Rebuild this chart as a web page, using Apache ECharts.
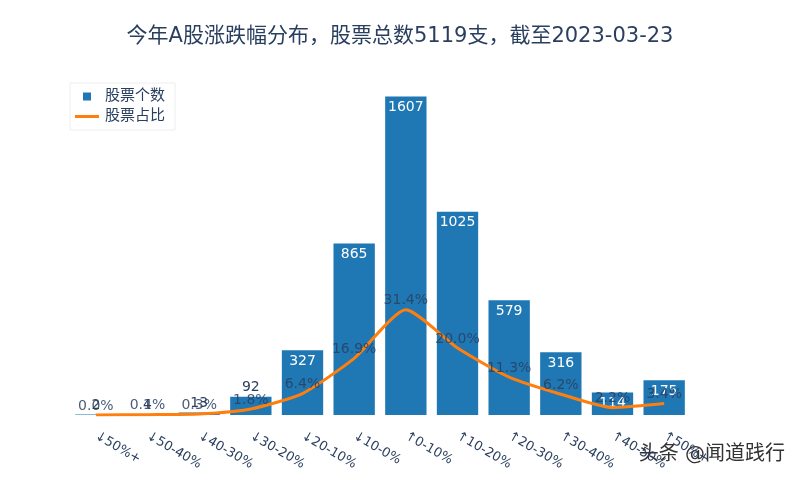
<!DOCTYPE html>
<html>
<head>
<meta charset="utf-8">
<script src="https://cdn.jsdelivr.net/npm/echarts@6/dist/echarts.min.js"></script>
<style>html,body{margin:0;padding:0;background:#fff}#c{width:800px;height:480px}</style>
</head>
<body>
<div id="c"></div>
<script>
var categories = ['↓50%+','↓50-40%','↓40-30%','↓30-20%','↓20-10%','↓10-0%','↑0-10%','↑10-20%','↑20-30%','↑30-40%','↑40-50%','↑50%+'];
var counts = [2, 4, 13, 92, 327, 865, 1607, 1025, 579, 316, 114, 175];
var percents = [0.0, 0.1, 0.3, 1.8, 6.4, 16.9, 31.4, 20.0, 11.3, 6.2, 2.2, 3.4];

var FONT = '"DejaVu Sans","Noto Sans CJK SC",sans-serif';
var TXT = '#2a3f5f';

var barData = counts.map(function (v) {
  var inside = v >= 100;
  return {
    value: v,
    label: inside ? { position: 'insideTop', color: '#fff', distance: 4 } : { position: 'top', color: TXT, distance: 2 }
  };
});

var chart = echarts.init(document.getElementById('c'), null, { renderer: 'canvas' });
chart.setOption({
  backgroundColor: '#fff',
  animation: false,
  textStyle: { fontFamily: FONT },
  title: {
    text: '今年A股涨跌幅分布，股票总数5119支，截至2023-03-23',
    left: 'center', top: 21,
    textStyle: { fontSize: 21, fontWeight: 'normal', color: TXT, fontFamily: FONT }
  },
  legend: {
    left: 70, top: 83, orient: 'vertical', itemGap: 5,
    padding: [6, 10, 6, 4],
    borderColor: '#eeeeee', borderWidth: 1,
    textStyle: { fontSize: 15, color: TXT, fontFamily: FONT },
    itemWidth: 26, itemHeight: 10,
    data: [
      { name: '股票个数', icon: 'path://M0,0L0,0M9,1L17,1L17,9L9,9ZM26,10L26,10', itemStyle: { color: '#1f77b4' } },
      { name: '股票占比', icon: 'path://M0,0L0,0M1,3.5L25,3.5L25,6.5L1,6.5ZM26,10L26,10', itemStyle: { color: '#ff7f0e' } }
    ]
  },
  grid: { left: 70, right: 110, top: 80, bottom: 65 },
  xAxis: {
    type: 'category', data: categories,
    axisLine: { show: false }, axisTick: { show: false },
    axisLabel: { rotate: -30, margin: 20, fontSize: 13, color: TXT, fontFamily: FONT, interval: 0 }
  },
  yAxis: [
    { type: 'value', min: 0, max: 1690, show: false, splitLine: { show: false } },
    { type: 'value', min: 0, max: 100, show: false, splitLine: { show: false } }
  ],
  series: [
    {
      name: '股票个数', type: 'bar', data: barData,
      barCategoryGap: '20%',
      itemStyle: { color: '#1f77b4' },
      label: { show: true, fontSize: 14, fontFamily: FONT }
    },
    {
      name: '股票占比', type: 'line', yAxisIndex: 1, data: percents,
      smooth: 0.2, symbol: 'circle', symbolSize: 0.1,
      lineStyle: { color: '#ff7f0e', width: 3 },
      itemStyle: { color: '#ff7f0e' },
      label: {
        show: true, position: 'top', distance: 2, fontSize: 14, color: 'rgba(42,63,95,0.85)', fontFamily: FONT,
        formatter: function (p) { return p.value.toFixed(1) + '%'; }
      },
      z: 3
    }
  ],
  graphic: [{
    type: 'text', right: 14, top: 444,
    style: { text: '头条 @闻道践行', fontSize: 20, fill: '#333', stroke: '#fff', lineWidth: 2, fontFamily: FONT }
  }]
});
</script>
</body>
</html>
